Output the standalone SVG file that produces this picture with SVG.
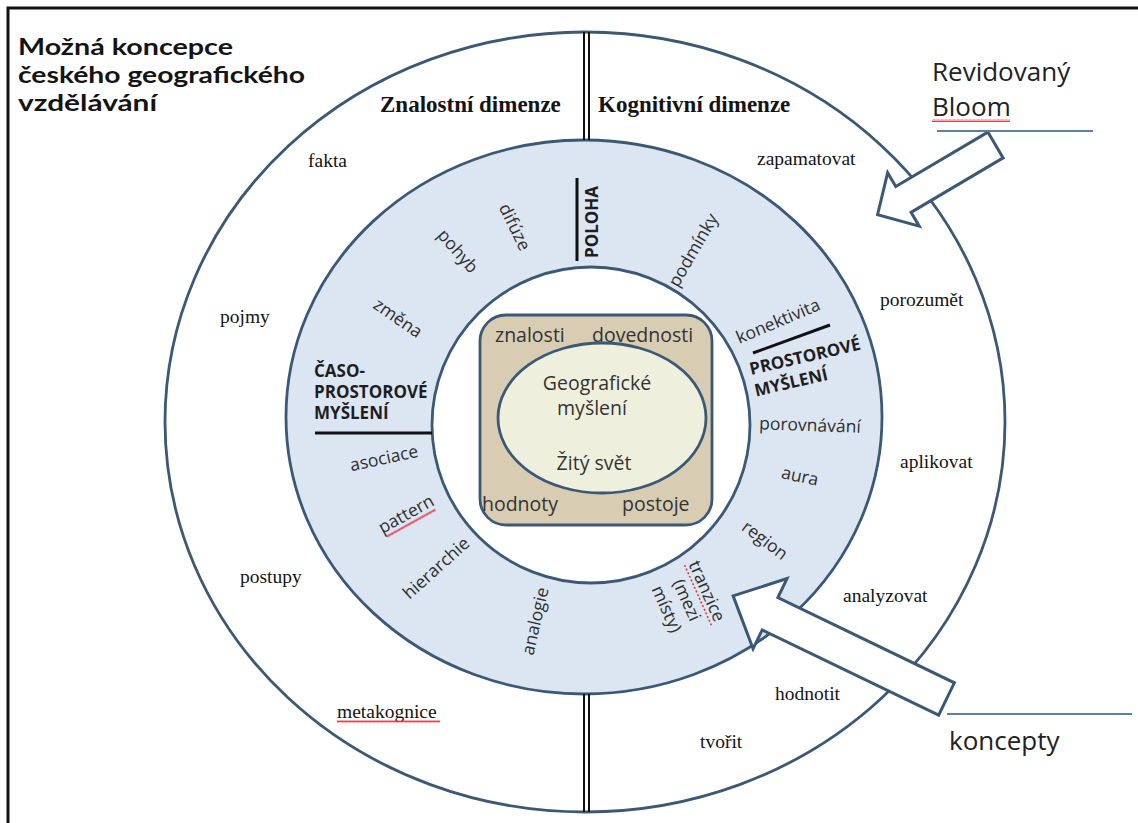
<svg xmlns="http://www.w3.org/2000/svg" width="1138" height="823" viewBox="0 0 1138 823">
<defs>
<pattern id="sq" width="4" height="3" patternUnits="userSpaceOnUse">
<path d="M0,2.5 L1,0.5 L2,2.5 L3,0.5 L4,2.5" fill="none" stroke="#e0303a" stroke-width="0.9"/>
</pattern>
<style>
.ring{stroke:#3b5875;stroke-width:2.8}
.title{font-family:"Lato","Open Sans",sans-serif;font-weight:bold;font-size:23px;fill:#141414}
.dim{font-family:"Liberation Serif",serif;font-weight:bold;font-size:23px;fill:#141414}
.ser{font-family:"Liberation Serif",serif;font-size:19.5px;fill:#141414}
.lbl{font-family:"Open Sans",sans-serif;font-size:17.5px;fill:#2e2e2e}
.bld{font-family:"Open Sans",sans-serif;font-weight:bold;font-size:17px;fill:#1e1e1e}
.ctr{font-family:"Open Sans",sans-serif;font-size:19.5px;fill:#333}
.big{font-family:"Open Sans",sans-serif;font-size:26px;fill:#222}
.blk{stroke:#111;stroke-width:3}
.dbl{stroke:#111;stroke-width:2}
.arrow{fill:#fff;stroke:#3b5875;stroke-width:3;stroke-linejoin:miter}
.note{stroke:#5b7fa6;stroke-width:2}
</style>
</defs>
<rect width="1138" height="823" fill="#fff"/>
<path d="M8,823 V8 H1138" fill="none" stroke="#111" stroke-width="3"/>

<g id="title">
<text class="title" x="18" y="55" textLength="215" lengthAdjust="spacingAndGlyphs">Možná koncepce</text>
<text class="title" x="18" y="83" textLength="287" lengthAdjust="spacingAndGlyphs">českého geografického</text>
<text class="title" x="18" y="111" textLength="139" lengthAdjust="spacingAndGlyphs">vzdělávání</text>
</g>

<g id="outer-ring">
<ellipse class="ring" cx="585" cy="422" rx="420" ry="390" fill="#fff"/>
<text class="dim" x="380" y="112">Znalostní dimenze</text>
<text class="dim" x="598" y="112">Kognitivní dimenze</text>
<text class="ser" x="308" y="167">fakta</text>
<text class="ser" x="220" y="323">pojmy</text>
<text class="ser" x="240" y="583">postupy</text>
<text class="ser" x="337" y="718">metakognice</text>
<rect x="337" y="720" width="103" height="3" fill="url(#sq)"/>
<text class="ser" x="757" y="165">zapamatovat</text>
<text class="ser" x="880" y="306">porozumět</text>
<text class="ser" x="900" y="468">aplikovat</text>
<text class="ser" x="843" y="602">analyzovat</text>
<text class="ser" x="775" y="700">hodnotit</text>
<text class="ser" x="700" y="748">tvořit</text>
</g>

<g id="concept-ring-shape">
<ellipse class="ring" cx="584" cy="417" rx="298" ry="277" fill="#dce6f2"/>
</g>

<g id="inner-ring">
<ellipse class="ring" cx="591" cy="425" rx="159" ry="158" fill="#fff"/>
</g>

<g id="concept-ring">
<line class="blk" x1="577" y1="178" x2="577" y2="261"/>
<text class="bld" font-size="16" transform="translate(598,258) rotate(-90)">POLOHA</text>
<text class="lbl" text-anchor="middle" dy="0.35em" transform="translate(515,227) rotate(64)">difúze</text>
<text class="lbl" text-anchor="middle" dy="0.35em" transform="translate(458,251) rotate(49)">pohyb</text>
<text class="lbl" text-anchor="middle" dy="0.35em" transform="translate(398,318) rotate(35)">změna</text>
<text class="bld" x="314" y="377">ČASO-</text>
<text class="bld" x="314" y="398">PROSTOROVÉ</text>
<text class="bld" x="314" y="419">MYŠLENÍ</text>
<line class="blk" x1="315" y1="433" x2="432" y2="433"/>
<text class="lbl" text-anchor="middle" dy="0.35em" transform="translate(384,458) rotate(-12)">asociace</text>
<g transform="translate(406,514) rotate(-29)">
<text class="lbl" text-anchor="middle" dy="0.35em">pattern</text>
<rect x="-28" y="9" width="56" height="3" fill="url(#sq)"/>
</g>
<text class="lbl" text-anchor="middle" dy="0.35em" transform="translate(436,568) rotate(-42)">hierarchie</text>
<text class="lbl" text-anchor="middle" dy="0.35em" transform="translate(535,621) rotate(-77)">analogie</text>
<text class="lbl" text-anchor="middle" dy="0.35em" transform="translate(693,250) rotate(-60)">podmínky</text>
<text class="lbl" text-anchor="middle" dy="0.35em" transform="translate(778,321) rotate(-23)">konektivita</text>
<line class="blk" x1="753" y1="353" x2="830" y2="325"/>
<g transform="translate(751,375) rotate(-13)">
<text class="bld" x="0" y="0">PROSTOROVÉ</text>
<text class="bld" x="0" y="22">MYŠLENÍ</text>
</g>
<text class="lbl" text-anchor="middle" dy="0.35em" transform="translate(810,425) rotate(2)">porovnávání</text>
<text class="lbl" text-anchor="middle" dy="0.35em" transform="translate(800,476) rotate(12)">aura</text>
<text class="lbl" text-anchor="middle" dy="0.35em" transform="translate(765,540) rotate(37)">region</text>
<g transform="translate(687,600) rotate(66)">
<text class="lbl" text-anchor="middle" y="-22" dy="0.35em">tranzice</text>
<line x1="-33" y1="-12" x2="33" y2="-12" stroke="#e0303a" stroke-width="1.5" stroke-dasharray="2 2"/>
<text class="lbl" text-anchor="middle" y="0" dy="0.35em">(mezi</text>
<text class="lbl" text-anchor="middle" y="22" dy="0.35em">místy)</text>
</g>
</g>

<g id="core-box">
<rect class="ring" x="480" y="315" width="232" height="210" rx="26" fill="#d8cdb3"/>
<text class="ctr" x="495" y="342">znalosti</text>
<text class="ctr" x="592" y="342">dovednosti</text>
<text class="ctr" x="482" y="511">hodnoty</text>
<text class="ctr" x="622" y="511">postoje</text>
</g>

<g id="core-ellipse">
<ellipse class="ring" cx="602" cy="418" rx="104" ry="75" fill="#eef0dd"/>
<text class="ctr" x="597" y="390" text-anchor="middle">Geografické</text>
<text class="ctr" x="592" y="415" text-anchor="middle">myšlení</text>
<text class="ctr" x="594" y="470" text-anchor="middle">Žitý svět</text>
</g>

<g id="connectors">
<line class="dbl" x1="584" y1="32" x2="584" y2="140"/>
<line class="dbl" x1="589" y1="32" x2="589" y2="140"/>
<line class="dbl" x1="584" y1="694" x2="584" y2="812"/>
<line class="dbl" x1="589" y1="694" x2="589" y2="812"/>
<polygon class="arrow" points="0,-15 107,-15 107,-31 137,0 107,31 107,15 0,15" transform="translate(995.5,145) rotate(149.4)"/>
<polygon class="arrow" points="0,-18 196,-18 196,-39 237,0 196,39 196,18 0,18" transform="translate(946.5,699) rotate(205.8)"/>
</g>

<g id="label-bloom">
<text class="big" x="932" y="81">Revidovaný</text>
<text class="big" x="932" y="116">Bloom</text>
<rect x="932" y="119" width="78" height="3" fill="url(#sq)"/>
<line class="note" x1="937" y1="131" x2="1093" y2="131"/>
</g>

<g id="label-koncepty">
<line class="note" x1="947" y1="714" x2="1132" y2="714"/>
<text class="big" x="949" y="750">koncepty</text>
</g>
</svg>
